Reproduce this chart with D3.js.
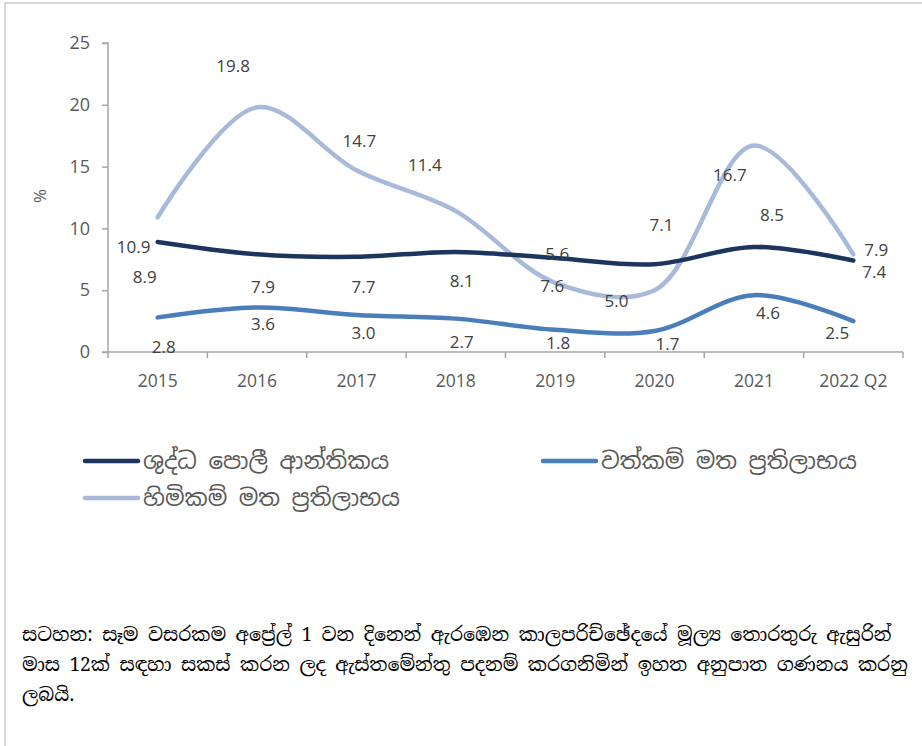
<!DOCTYPE html>
<html><head><meta charset="utf-8">
<script src="https://cdn.jsdelivr.net/npm/d3@7"></script>
<style>
html,body{margin:0;padding:0;background:#fff;}
svg{display:block;}
</style></head>
<body>
<svg id="chart" width="922" height="746"></svg>
<script>
const categories = ["2015","2016","2017","2018","2019","2020","2021","2022 Q2"];
const seriesNames = ["ශුද්ධ පොලී ආන්තිකය","වත්කම් මත ප්‍රතිලාභය","හිමිකම් මත ප්‍රතිලාභය"];
const nim = [8.9, 7.9, 7.7, 8.1, 7.6, 7.1, 8.5, 7.4];
const roa = [2.8, 3.6, 3.0, 2.7, 1.8, 1.7, 4.6, 2.5];
const roe = [10.9, 19.8, 14.7, 11.4, 5.6, 5.0, 16.7, 7.9];
const yTicks = [0, 5, 10, 15, 20, 25];
const noteLines = [
  "සටහන: සෑම වසරකම අප්‍රේල් 1 වන දිනෙන් ඇරඹෙන කාලපරිච්ඡේදයේ මූල්‍ය තොරතුරු ඇසුරින්",
  "මාස 12ක් සඳහා සකස් කරන ලද ඇස්තමේන්තු පදනම් කරගනිමින් ඉහත අනුපාත ගණනය කරනු",
  "ලබයි."
];

// label offsets (px, label centre relative to its point), as placed in the original chart
const labelOffsets = {
  nim: [[-13,35],[6,33],[7,30],[6,29],[-3,28],[7,-39],[18,-32],[21,12]],
  roa: [[6,30],[6,17],[7,18],[6,23],[3,13],[13,13],[14,18],[-16,12]],
  roe: [[-24,30],[-24,-41],[3,-29],[-31,-46],[2,-29],[-38,11],[-24,29],[23,-4]]
};
const colors = {nim:"#1c355e", roa:"#4a7ebb", roe:"#a8bad9"};

const svg = d3.select("#chart");
// outer frame
svg.append("path").attr("d","M5,746 V3 H922").attr("fill","none")
  .attr("stroke","#d9d9d9").attr("stroke-width",2);

const plot = {left:108, right:903, top:43, bottom:352};
const x = d3.scaleBand().domain(categories).range([plot.left, plot.right]).padding(0);
const y = d3.scaleLinear().domain([0,25]).range([plot.bottom, plot.top]);
const cx = c => x(c) + x.bandwidth()/2;

const axisColor = "#a6a6a6";
const textColor = "#595959";

// y axis
const yAxis = svg.append("g").attr("transform",`translate(${plot.left},0)`)
  .call(d3.axisLeft(y).tickValues(yTicks).tickSize(6).tickPadding(12).tickFormat(d3.format("d")));
yAxis.select(".domain").attr("stroke",axisColor).attr("stroke-width",1.5).attr("d",`M-6,${plot.top}H0V${plot.bottom}`);
yAxis.selectAll(".tick line").attr("stroke",axisColor).attr("stroke-width",1.5);
yAxis.selectAll(".tick text").attr("fill",textColor).style("font-family","'Open Sans',sans-serif").style("font-size","18px");

// x axis
const xAxis = svg.append("g").attr("transform",`translate(0,${plot.bottom})`)
  .call(d3.axisBottom(x).tickSize(0).tickPadding(23));
xAxis.select(".domain").attr("stroke",axisColor).attr("stroke-width",1.5).attr("d",`M${plot.left-6},0H${plot.right}`);
xAxis.selectAll(".tick text").attr("fill",textColor).style("font-family","'Open Sans',sans-serif").style("font-size","17.5px");
// category boundary ticks
const bounds = categories.map(c => x(c)).concat([plot.right]);
svg.append("g").selectAll("line").data(bounds).join("line")
  .attr("x1",d=>d).attr("x2",d=>d).attr("y1",plot.bottom).attr("y2",plot.bottom+6)
  .attr("stroke",axisColor).attr("stroke-width",1.5);

// y label
svg.append("text").attr("transform","translate(46,196) rotate(-90)")
  .attr("text-anchor","middle").attr("fill",textColor)
  .style("font-family","'Open Sans',sans-serif").style("font-size","17px").text("%");

const line = d3.line().x((d,i)=>cx(categories[i])).y(d=>y(d)).curve(d3.curveCatmullRom.alpha(0.5));

const series = [
  {key:"roe", values:roe},
  {key:"nim", values:nim},
  {key:"roa", values:roa}
];
series.forEach(s=>{
  svg.append("path").datum(s.values).attr("d",line).attr("fill","none")
    .attr("stroke",colors[s.key]).attr("stroke-width",4.5).attr("stroke-linecap","round");
});
// data labels
series.forEach(s=>{
  svg.append("g").selectAll("text").data(s.values).join("text")
    .attr("x",(d,i)=>cx(categories[i])+labelOffsets[s.key][i][0])
    .attr("y",(d,i)=>y(d)+labelOffsets[s.key][i][1])
    .attr("dy","0.35em")
    .attr("text-anchor","middle").attr("fill","#404040")
    .style("font-family","'Open Sans',sans-serif").style("font-size","17px")
    .text(d=>d3.format(".1f")(d));
});

// legend
const legendItems = [
  {key:"nim", name:seriesNames[0], x:85, y:461},
  {key:"roa", name:seriesNames[1], x:543, y:461},
  {key:"roe", name:seriesNames[2], x:85, y:498}
];
const lg = svg.append("g").selectAll("g").data(legendItems).join("g")
  .attr("transform",d=>`translate(${d.x},${d.y})`);
lg.append("line").attr("x1",0).attr("x2",53).attr("y1",0).attr("y2",0)
  .attr("stroke",d=>colors[d.key]).attr("stroke-width",4.5).attr("stroke-linecap","round");
lg.append("text").attr("x",58).attr("y",0).attr("dy","0.35em")
  .attr("fill",textColor).style("font-family","'Noto Sans Sinhala','Noto Sans',sans-serif").style("font-size","23px")
  .text(d=>d.name);

// note
svg.append("g").selectAll("text").data(noteLines).join("text")
  .attr("x",22).attr("y",(d,i)=>641+i*30)
  .attr("fill","#000").style("font-family","'Noto Serif Sinhala','Noto Sans Sinhala',serif").style("font-size","19px")
  .text(d=>d);
</script>
</body></html>
